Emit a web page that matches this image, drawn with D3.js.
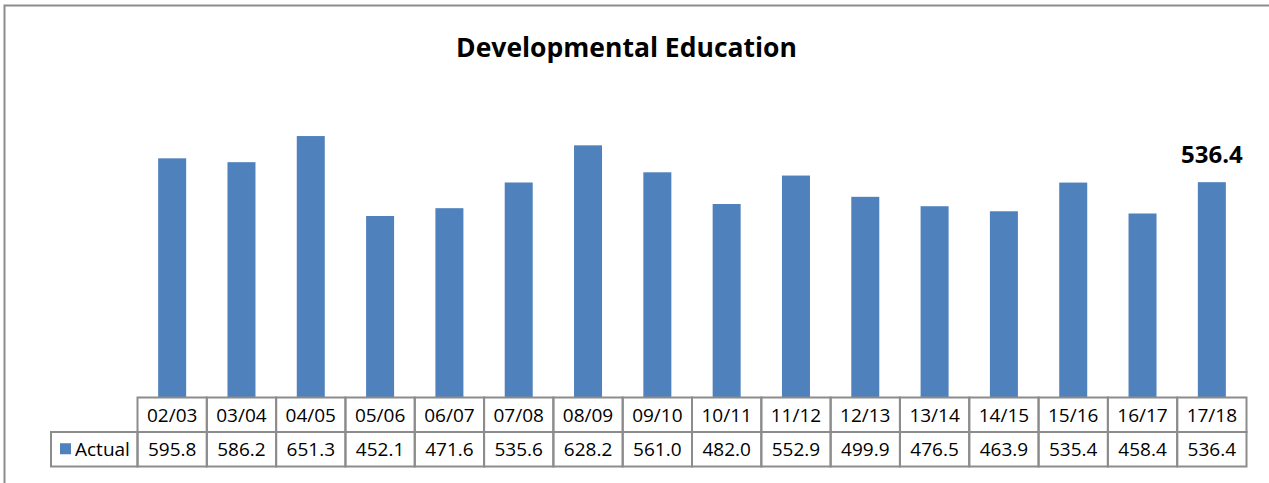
<!DOCTYPE html>
<html>
<head>
<meta charset="utf-8">
<script src="https://cdn.jsdelivr.net/npm/d3@7"></script>
<style>
  body { margin: 0; background: #fff; }
  svg { display: block; font-family: "Open Sans", sans-serif; }
</style>
</head>
<body>
<svg id="chart"></svg>
<script>
var width = 1269;
var height = 483;

var years = ['02/03', '03/04', '04/05', '05/06', '06/07', '07/08', '08/09', '09/10',
             '10/11', '11/12', '12/13', '13/14', '14/15', '15/16', '16/17', '17/18'];
var actual = [595.8, 586.2, 651.3, 452.1, 471.6, 535.6, 628.2, 561.0,
              482.0, 552.9, 499.9, 476.5, 463.9, 535.4, 458.4, 536.4];
var seriesName = 'Actual';
var yDomain = [0, 700];

var tableLeft = 137.5;
var tableRight = 1246.5;
var legendLeft = 51;
var baseY = 397.5;
var rowH = 34.5;
var borderColor = '#8c8c8c';
var barColor = '#4f81bd';

var svg = d3.select('#chart')
    .attr('width', width)
    .attr('height', height);

// outer chart frame (top and left edges visible)
svg.append('path')
    .attr('d', 'M4.5,' + height + 'V5.5H' + width)
    .attr('fill', 'none')
    .attr('stroke', borderColor)
    .attr('stroke-width', 2);

var xScale = d3.scaleBand()
    .domain(years)
    .range([tableLeft, tableRight])
    .paddingInner(0)
    .paddingOuter(0);

var yScale = d3.scaleLinear()
    .domain(yDomain)
    .range([baseY, 116.5]);

var bw = 28;

svg.append('g')
  .selectAll('rect')
  .data(years)
  .enter()
  .append('rect')
    .attr('x', d => xScale(d) + xScale.bandwidth() / 2 - bw / 2)
    .attr('y', (d, i) => yScale(actual[i]))
    .attr('width', bw)
    .attr('height', (d, i) => yScale(0) - yScale(actual[i]))
    .attr('fill', barColor);

// label on last bar
var last = years.length - 1;
svg.append('text')
    .attr('x', xScale(years[last]) + xScale.bandwidth() / 2)
    .attr('y', yScale(actual[last]) - 19.5)
    .attr('text-anchor', 'middle')
    .style('font-weight', 'bold')
    .style('font-size', '24px')
    .text(actual[last].toFixed(1));

// title
svg.append('text')
    .attr('x', 626.5)
    .attr('y', 57)
    .attr('text-anchor', 'middle')
    .style('font-weight', 'bold')
    .style('font-size', '26.5px')
    .text('Developmental Education');

// data table
var table = svg.append('g');

table.selectAll('rect.head')
  .data(years)
  .enter()
  .append('rect')
    .attr('class', 'head')
    .attr('x', d => xScale(d))
    .attr('y', baseY)
    .attr('width', xScale.bandwidth())
    .attr('height', rowH)
    .attr('fill', 'none')
    .attr('stroke', borderColor)
    .attr('stroke-width', 2);

table.selectAll('rect.val')
  .data(years)
  .enter()
  .append('rect')
    .attr('class', 'val')
    .attr('x', d => xScale(d))
    .attr('y', baseY + rowH)
    .attr('width', xScale.bandwidth())
    .attr('height', rowH)
    .attr('fill', 'none')
    .attr('stroke', borderColor)
    .attr('stroke-width', 2);

table.append('rect')
    .attr('x', legendLeft)
    .attr('y', baseY + rowH)
    .attr('width', tableLeft - legendLeft)
    .attr('height', rowH)
    .attr('fill', 'none')
    .attr('stroke', borderColor)
    .attr('stroke-width', 2);

table.selectAll('text.year')
  .data(years)
  .enter()
  .append('text')
    .attr('class', 'year')
    .attr('x', d => xScale(d) + xScale.bandwidth() / 2)
    .attr('y', baseY + rowH / 2 + 7)
    .attr('text-anchor', 'middle')
    .style('font-size', '19px')
    .text(d => d);

table.selectAll('text.val')
  .data(years)
  .enter()
  .append('text')
    .attr('class', 'val')
    .attr('x', d => xScale(d) + xScale.bandwidth() / 2)
    .attr('y', baseY + rowH * 1.5 + 6.5)
    .attr('text-anchor', 'middle')
    .style('font-size', '19px')
    .text((d, i) => actual[i].toFixed(1));

table.append('rect')
    .attr('x', 60)
    .attr('y', baseY + rowH * 1.5 - 6)
    .attr('width', 11)
    .attr('height', 11)
    .attr('fill', barColor);

table.append('text')
    .attr('x', 75)
    .attr('y', baseY + rowH * 1.5 + 6.5)
    .style('font-size', '19px')
    .text(seriesName);
</script>
</body>
</html>
